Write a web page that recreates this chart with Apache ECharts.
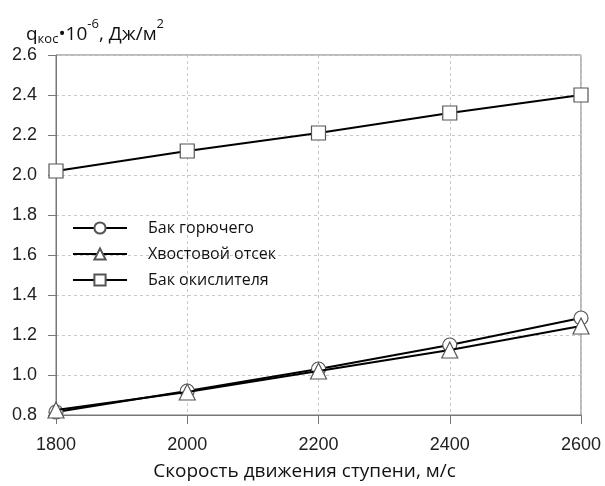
<!DOCTYPE html>
<html><head><meta charset="utf-8">
<script src="https://cdn.jsdelivr.net/npm/echarts@6/dist/echarts.min.js"></script>
<style>html,body{margin:0;padding:0;background:#fff}#c{width:605px;height:486px}</style>
</head><body><div id="c"></div>
<script>
const speeds = [1800, 2000, 2200, 2400, 2600];
const fuelTank = [0.815, 0.92, 1.03, 1.15, 1.285];
const tailSection = [0.825, 0.915, 1.02, 1.125, 1.245];
const oxidizerTank = [2.02, 2.12, 2.21, 2.31, 2.40];
const seriesNames = ['Бак горючего', 'Хвостовой отсек', 'Бак окислителя'];
const yTicks = [0.8, 1.0, 1.2, 1.4, 1.6, 1.8, 2.0, 2.2, 2.4, 2.6];

const pair = ys => speeds.map((x, i) => [x, ys[i]]);
const chart = echarts.init(document.getElementById('c'));
const mk = (name, data, sym) => ({
  name, type: 'line', data: pair(data), symbol: sym, symbolSize: sym === 'triangle' ? 16 : 14,
  lineStyle: { color: '#000', width: 2 },
  itemStyle: { color: '#fff', borderColor: '#555', borderWidth: 1.2 },
  emphasis: { disabled: true }, z: sym === 'triangle' ? 3 : 2
});
chart.setOption({
  animation: false,
  title: {
    left: 21, top: 15,
    text: '{a|q}{s|кос}{a|•10}{p|-6}{a|, Дж/м}{p|2}',
    textStyle: {
      fontWeight: 'normal',
      rich: {
        a: { fontFamily: 'Open Sans', fontSize: 19, fontWeight: 'normal', color: '#111', verticalAlign: 'bottom', lineHeight: 24 },
        s: { fontFamily: 'Open Sans', fontSize: 13, fontWeight: 'normal', color: '#111', verticalAlign: 'bottom', lineHeight: 18, padding: [0, 0, -2, 0] },
        p: { fontFamily: 'Open Sans', fontSize: 13, fontWeight: 'normal', color: '#111', verticalAlign: 'top', lineHeight: 14, padding: [-2, 0, 0, 0] }
      }
    }
  },
  legend: {
    orient: 'vertical', left: 67, top: 215, itemWidth: 54, itemHeight: 14, itemGap: 10,
    data: seriesNames,
    textStyle: { fontFamily: 'Open Sans', fontSize: 16, color: '#111', padding: [0, 0, 0, 16] }
  },
  grid: { left: 56, right: 24, top: 55, bottom: 68, show: true, borderColor: '#777', borderWidth: 1, backgroundColor: 'transparent' },
  xAxis: {
    type: 'value', min: 1800, max: 2600, interval: 200,
    name: 'Скорость движения ступени, м/с', nameLocation: 'middle', nameGap: 47,
    nameTextStyle: { fontFamily: 'Open Sans', fontSize: 19, color: '#111', padding: [0, 28, 0, 0] },
    axisLine: { lineStyle: { color: '#777' } },
    axisTick: { show: true, length: 9, lineStyle: { color: '#777' } },
    axisLabel: { fontFamily: 'Liberation Sans', fontSize: 18, color: '#222', margin: 21, formatter: v => String(v) },
    splitLine: { show: true, lineStyle: { color: '#c8c8c8', type: [3, 3] } }
  },
  yAxis: {
    type: 'value', min: 0.8, max: 2.6, interval: 0.2,
    axisLine: { show: true, lineStyle: { color: '#777' } },
    axisTick: { show: true, length: 8, lineStyle: { color: '#777' } },
    axisLabel: { fontFamily: 'Liberation Sans', fontSize: 18, color: '#222', margin: 19,
      formatter: v => { const t = yTicks.find(k => Math.abs(k - v) < 1e-6); return (t !== undefined ? t : v).toFixed(1); } },
    splitLine: { show: true, lineStyle: { color: '#c8c8c8', type: [3, 3] } }
  },
  series: [
    mk(seriesNames[0], fuelTank, 'circle'),
    mk(seriesNames[1], tailSection, 'triangle'),
    mk(seriesNames[2], oxidizerTank, 'rect')
  ]
});
</script></body></html>
